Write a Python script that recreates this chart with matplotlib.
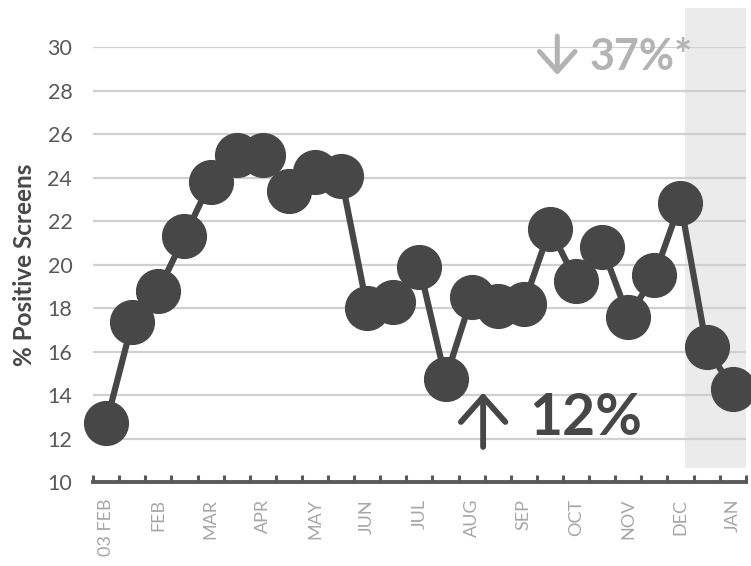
import matplotlib
matplotlib.use("Agg")
import matplotlib.pyplot as plt
from matplotlib.patches import Rectangle

plt.rcParams["font.family"] = ["Lato", "DejaVu Sans"]

# biweekly positivity (% positive screens)
values = [12.7, 17.35, 18.8, 21.3, 23.8, 25.05, 25.05, 23.4, 24.25, 24.05,
          18.0, 18.3, 19.9, 14.75, 18.5, 18.1, 18.2, 21.65, 19.25, 20.8,
          17.6, 19.5, 22.85, 16.2, 14.3]
labels = ["03 FEB", "", "FEB", "", "MAR", "", "APR", "", "MAY", "", "JUN", "",
          "JUL", "", "AUG", "", "SEP", "", "OCT", "", "NOV", "", "DEC", "", "JAN"]
yticks = [10, 12, 14, 16, 18, 20, 22, 24, 26, 28, 30]
shade_start, shade_end = 22.18, 24.5
shade_low, shade_high = 10.65, 31.8

DARK = "#474747"
LIGHT = "#b3b3b3"
x = list(range(len(values)))

fig = plt.figure(figsize=(7.51, 5.66), dpi=100)
ax = fig.add_axes([0.124, 0.148, 0.869, 0.769])

ax.add_patch(Rectangle((shade_start, shade_low), shade_end - shade_start,
                       shade_high - shade_low, color="#ebebeb", zorder=0,
                       clip_on=False, linewidth=0))

for y in yticks[1:]:
    ax.axhline(y, color="#d0d0d0", lw=1.6, zorder=1)

ax.plot(x, values, color=DARK, lw=4.5, marker="o", ms=31.5, zorder=3,
        clip_on=False)

ax.set_xlim(-0.5, len(values) - 0.5)
ax.set_ylim(10, 30)
ax.set_yticks(yticks)
ax.tick_params(axis="y", length=0, labelsize=15.5, labelcolor="#595959", pad=15)
ax.set_xticks(x)
ax.set_xticklabels(labels, rotation=90, fontsize=13, color="#a6a6a6")
ax.tick_params(axis="x", which="major", length=0, pad=12)
ax.set_xticks([i - 0.5 for i in range(len(values) + 1)], minor=True)
ax.tick_params(axis="x", which="minor", direction="in", length=5, width=2.2,
               color="#595959")

for s in ["top", "right", "left"]:
    ax.spines[s].set_visible(False)
ax.spines["bottom"].set_color("#595959")
ax.spines["bottom"].set_linewidth(2.8)

ax.set_ylabel("% Positive Screens", fontsize=17.5, fontweight="bold",
              color=DARK, labelpad=8)

# annotations
ax.annotate("", xy=(14.44, 14.12), xytext=(14.44, 11.62),
            arrowprops=dict(arrowstyle="->,head_length=0.45,head_width=0.4",
                            lw=4.2, color=DARK, shrinkA=0, shrinkB=0,
                            mutation_scale=40), zorder=4)
ax.text(16.2, 12.95, "12%", fontsize=41, fontweight="bold", color=DARK,
        ha="left", va="center", zorder=4)
ax.annotate("", xy=(17.28, 28.7), xytext=(17.28, 30.5),
            arrowprops=dict(arrowstyle="->,head_length=0.36,head_width=0.32",
                            lw=3.6, color=LIGHT, shrinkA=0, shrinkB=0,
                            mutation_scale=40), zorder=4)
ax.text(18.5, 29.55, "37%*", fontsize=31, fontweight="bold", color=LIGHT,
        ha="left", va="center", zorder=4)

fig.savefig("out.png", dpi=100)
